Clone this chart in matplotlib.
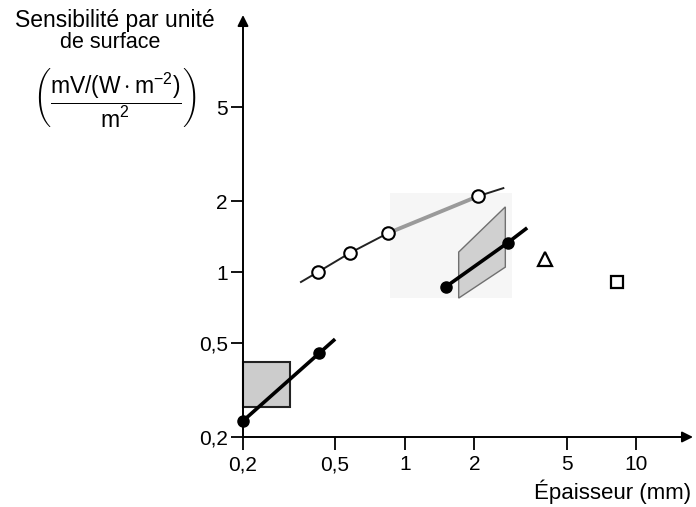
import matplotlib
matplotlib.use('Agg')
import matplotlib.pyplot as plt
from matplotlib.patches import Polygon, Rectangle

plt.rcParams['font.family'] = ['Liberation Sans', 'DejaVu Sans']
plt.rcParams['mathtext.fontset'] = 'custom'
plt.rcParams['mathtext.rm'] = 'Liberation Sans'
plt.rcParams['mathtext.it'] = 'Liberation Sans:italic'
plt.rcParams['mathtext.bf'] = 'Liberation Sans:bold'

# ---------------- data ----------------
x_ticks = [0.2, 0.5, 1, 2, 5, 10]
x_tick_labels = ['0,2', '0,5', '1', '2', '5', '10']
y_ticks = [0.2, 0.5, 1, 2, 5]
y_tick_labels = ['0,2', '0,5', '1', '2', '5']

# thin film (filled dots) - low series
low_x = [0.2, 0.426]
low_y = [0.234, 0.454]
low_line_x = [0.2, 0.5]
low_line_y = [0.234, 0.52]
low_box_x = [0.2, 0.319]
low_box_y = [0.268, 0.416]

# open circles series
open_x = [0.421, 0.578, 0.843, 2.08]
open_y = [1.0, 1.204, 1.46, 2.1]
open_start_x, open_start_y = 0.356, 0.908
open_end_x, open_end_y = 2.667, 2.27

# filled dots - high series
high_x = [1.5, 2.78]
high_y = [0.865, 1.33]
high_end_x, high_end_y = 3.38, 1.54
para_x = [1.71, 2.72, 2.72, 1.71]
para_y = [0.776, 1.05, 1.89, 1.216]

# faint background region
bg_x = [0.86, 2.91]
bg_y = [0.78, 2.16]

# isolated points
tri_x, tri_y = [4.05], [1.14]
sq_x, sq_y = [8.27], [0.908]

# ---------------- figure ----------------
W, H = 696, 507
fig = plt.figure(figsize=(W / 100, H / 100), dpi=100)
ax = fig.add_axes([243 / W, (H - 437) / H, 450 / W, 422 / H])
ax.set_xscale('log')
ax.set_yscale('log')
ax.set_xlim(0.2, 17.6)
ax.set_ylim(0.2, 12.3)

for s in ax.spines.values():
    s.set_visible(False)

# axes with arrows
ax.annotate('', xy=(1.0, 0), xytext=(0, 0), xycoords='axes fraction',
            arrowprops=dict(arrowstyle='-|>', color='black', lw=1.4,
                            mutation_scale=16, shrinkA=0, shrinkB=0))
ax.annotate('', xy=(0, 1.0), xytext=(0, 0), xycoords='axes fraction',
            arrowprops=dict(arrowstyle='-|>', color='black', lw=1.4,
                            mutation_scale=16, shrinkA=0, shrinkB=0))

ax.set_xticks(x_ticks)
ax.set_xticklabels(x_tick_labels)
ax.set_yticks(y_ticks)
ax.set_yticklabels(y_tick_labels)
ax.minorticks_off()
ax.tick_params(axis='both', direction='out', length=9, width=1.3,
               labelsize=15, colors='black')
ax.tick_params(axis='x', pad=4)
ax.tick_params(axis='y', pad=2)

# faint background
ax.add_patch(Rectangle((bg_x[0], bg_y[0]), bg_x[1] - bg_x[0], bg_y[1] - bg_y[0],
                       facecolor='#f6f6f6', edgecolor='none', zorder=0))

# low box
ax.add_patch(Rectangle((low_box_x[0], low_box_y[0]), low_box_x[1] - low_box_x[0],
                       low_box_y[1] - low_box_y[0], facecolor='#cccccc',
                       edgecolor='#222222', lw=1.5, zorder=1, clip_on=False))
# parallelogram
ax.add_patch(Polygon(list(zip(para_x, para_y)), closed=True, facecolor='#d0d0d0',
                     edgecolor='#707070', lw=1.0, zorder=1))

# low series
ax.plot(low_line_x, low_line_y, color='black', lw=2.6, zorder=3, clip_on=False,
        solid_capstyle='butt')
ax.plot(low_x, low_y, 'o', color='black', ms=8, zorder=4, clip_on=False)

# open series
ax.plot([open_start_x, open_x[0], open_x[1], open_x[2]],
        [open_start_y, open_y[0], open_y[1], open_y[2]],
        color='#222222', lw=1.4, zorder=2)
ax.plot([open_x[2], open_x[3]], [open_y[2], open_y[3]], color='#9a9a9a', lw=2.8, zorder=2)
ax.plot([open_x[3], open_end_x], [open_y[3], open_end_y], color='#222222', lw=1.4, zorder=2)
ax.plot(open_x, open_y, 'o', mfc='white', mec='black', mew=1.5, ms=9, ls='none', zorder=4)

# high series
ax.plot([high_x[0], high_x[1], high_end_x], [high_y[0], high_y[1], high_end_y],
        color='black', lw=2.6, zorder=3, solid_capstyle='butt')
ax.plot(high_x, high_y, 'o', color='black', ms=8, zorder=4)

# isolated markers
ax.plot(tri_x, tri_y, '^', mfc='white', mec='black', mew=1.6, ms=10, ls='none')
ax.plot(sq_x, sq_y, 's', mfc='white', mec='black', mew=1.6, ms=8, ls='none')

# labels
fig.text(115 / W, 1 - 20 / H, 'Sensibilité par unité', ha='center', va='center', fontsize=16.5)
fig.text(110 / W, 1 - 42 / H, 'de surface', ha='center', va='center', fontsize=15.5)
fig.text(115 / W, 1 - 98 / H,
         r'$\left(\dfrac{\mathrm{mV/(W \cdot m^{-2})}}{\mathrm{m^{2}}}\right)$',
         ha='center', va='center', fontsize=16.5)
fig.text(691 / W, 1 - 492 / H, 'Épaisseur (mm)', ha='right', va='center', fontsize=16)

fig.savefig('out.png', dpi=100)
